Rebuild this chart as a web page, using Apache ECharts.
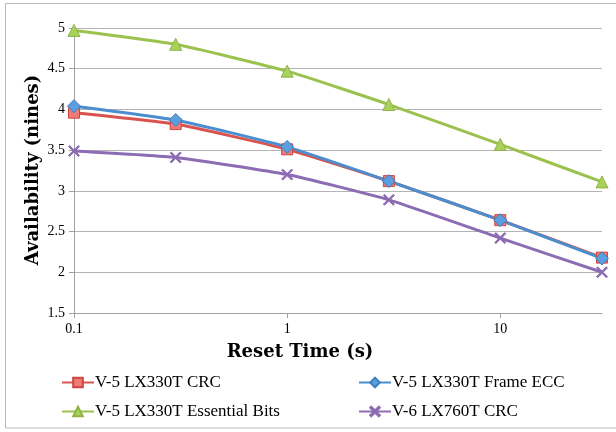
<!DOCTYPE html>
<html><head><meta charset="utf-8">
<script src="https://cdn.jsdelivr.net/npm/echarts@6/dist/echarts.min.js"></script>
<style>html,body{margin:0;padding:0;background:#fff}#c{width:616px;height:432px}</style>
</head><body><div id="c"></div>
<script>
const resetTimes = [0.1, 0.3, 1, 3, 10, 30];
const crc330 = [3.96, 3.82, 3.51, 3.12, 2.64, 2.18];
const frameEcc330 = [4.04, 3.87, 3.54, 3.12, 2.64, 2.17];
const essential330 = [4.97, 4.80, 4.47, 4.06, 3.57, 3.11];
const crc760 = [3.49, 3.41, 3.20, 2.89, 2.42, 2.00];
const seriesNames = ['V-5 LX330T CRC', 'V-5 LX330T Frame ECC', 'V-5 LX330T Essential Bits', 'V-6 LX760T CRC'];
const xTitle = 'Reset Time (s)';
const yTitle = 'Availability (nines)';

const pairs = v => resetTimes.map((t, i) => [t, v[i]]);
const serif = 'Liberation Serif, DejaVu Serif, serif';
const boldSerif = 'DejaVu Serif, Liberation Serif, serif';
const xSym = 'path://M0,1 L1,0 L5,4 L9,0 L10,1 L6,5 L10,9 L9,10 L5,6 L1,10 L0,9 L4,5 Z';

const chart = echarts.init(document.getElementById('c'), null, {renderer: 'canvas'});
function mk(name, data, line, fill, border, symbol, size) {
  return {
    name, type: 'line', data: pairs(data), smooth: 0.15,
    symbol, symbolSize: size,
    lineStyle: {color: line, width: 3},
    itemStyle: {color: fill, borderColor: border, borderWidth: 1},
    emphasis: {disabled: true}
  };
}
chart.setOption({
  animation: false,
  backgroundColor: '#fff',
  grid: {left: 74, right: 14, top: 28, bottom: 119},
  graphic: [
    {type: 'rect', shape: {x: 5.5, y: 3.5, width: 620, height: 424.5}, style: {fill: 'none', stroke: '#b8b8b8', lineWidth: 1}, silent: true},
    {type: 'text', x: 300, y: 352, style: {text: xTitle, font: 'bold 18px ' + boldSerif, fill: '#000', align: 'center', verticalAlign: 'middle'}},
    {type: 'text', x: 33, y: 170, rotation: Math.PI / 2, style: {text: yTitle, font: 'bold 18px ' + boldSerif, fill: '#000', align: 'center', verticalAlign: 'middle'}}
  ],
  legend: [
    {left: 56, top: 369, orient: 'vertical', itemGap: 12, itemWidth: 32, itemHeight: 12,
     data: [seriesNames[0], seriesNames[2]],
     textStyle: {fontFamily: serif, fontSize: 17, color: '#000', padding: [0, 0, 0, -4]}},
    {left: 353, top: 369, orient: 'vertical', itemGap: 12, itemWidth: 32, itemHeight: 12,
     data: [seriesNames[1], seriesNames[3]],
     textStyle: {fontFamily: serif, fontSize: 17, color: '#000', padding: [0, 0, 0, -4]}}
  ],
  xAxis: {
    type: 'log', logBase: 10, min: 0.1, max: 30,
    axisLine: {lineStyle: {color: '#a0a0a0', width: 1}},
    axisTick: {show: true, inside: false, length: 5, lineStyle: {color: '#a0a0a0'}},
    minorTick: {show: false},
    splitLine: {show: false},
    axisLabel: {fontFamily: serif, fontSize: 14, color: '#000', margin: 9, showMaxLabel: false,
      formatter: v => (v < 1 ? String(Math.round(v * 10) / 10) : String(Math.round(v)))}
  },
  yAxis: {
    type: 'value', min: 1.5, max: 5, interval: 0.5,
    axisLine: {show: true, lineStyle: {color: '#a0a0a0', width: 1}},
    axisTick: {show: true, length: 5, lineStyle: {color: '#a0a0a0'}},
    splitLine: {lineStyle: {color: '#b4b4b4', width: 1}},
    axisLabel: {fontFamily: serif, fontSize: 14, color: '#000', margin: 9}
  },
  series: [
    mk(seriesNames[0], crc330, '#D9544F', '#EF7B76', '#D04440', 'rect', 11),
    mk(seriesNames[1], frameEcc330, '#4A8ECF', '#5C9FDE', '#3F7FC0', 'diamond', 13),
    mk(seriesNames[2], essential330, '#9BC24E', '#A9D15C', '#8FB545', 'triangle', 12),
    mk(seriesNames[3], crc760, '#8C6CB2', '#8C6CB2', '#8C6CB2', xSym, 11)
  ]
});
</script></body></html>
